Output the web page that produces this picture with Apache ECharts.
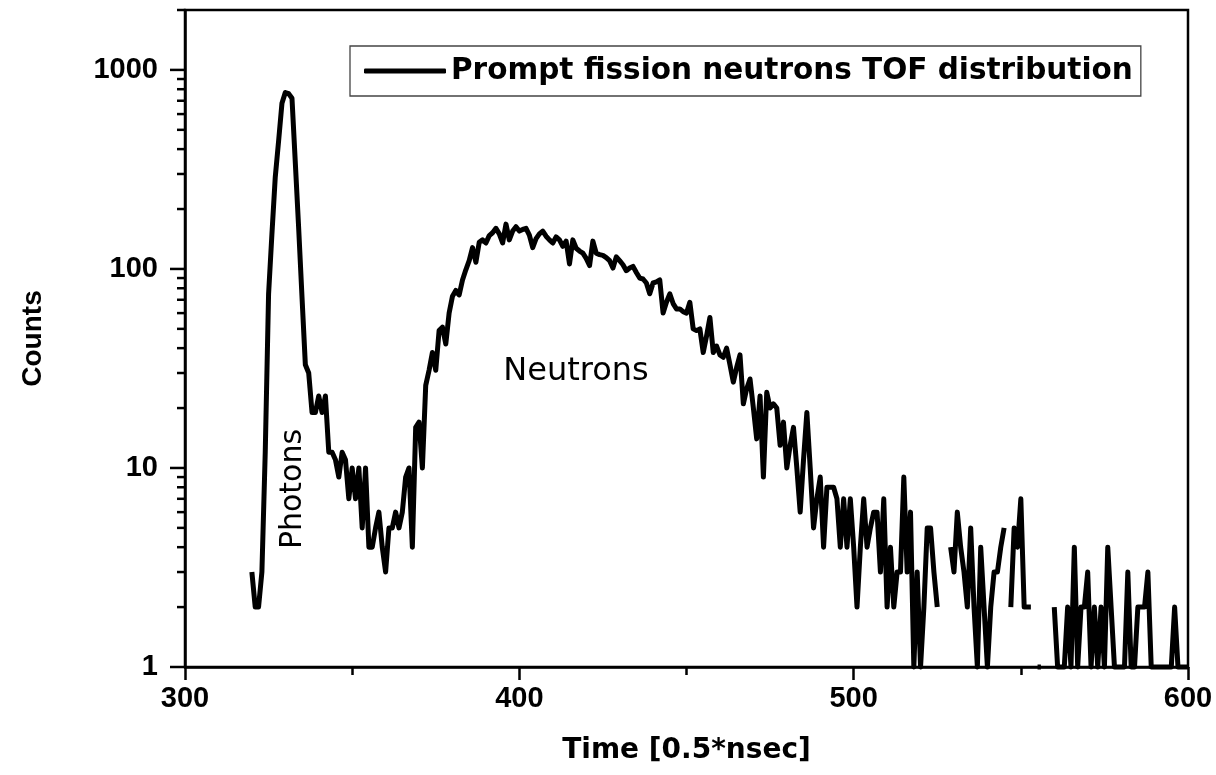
<!DOCTYPE html>
<html>
<head>
<meta charset="utf-8">
<script src="https://cdn.jsdelivr.net/npm/echarts@6/dist/echarts.min.js"></script>
<style>
html,body{margin:0;padding:0;background:#fff;}
#chart{width:1216px;height:775px;}
</style>
</head>
<body>
<div id="chart"></div>
<script>
// ---- data ----
const channels = [
320,321,322,323,324,325,326,327,328,329,330,331,332,333,334,335,336,337,338,339,
340,341,342,343,344,345,346,347,348,349,350,351,352,353,354,355,356,357,358,359,
360,361,362,363,364,365,366,367,368,369,370,371,372,373,374,375,376,377,378,379,
380,381,382,383,384,385,386,387,388,389,390,391,392,393,394,395,396,397,398,399,
400,401,402,403,404,405,406,407,408,409,410,411,412,413,414,415,416,417,418,419,
420,421,422,423,424,425,426,427,428,429,430,431,432,433,434,435,436,437,438,439,
440,441,442,443,444,445,446,447,448,449,450,451,452,453,454,455,456,457,458,459,
460,461,462,463,464,465,466,467,468,469,470,471,472,473,474,475,476,477,478,479,
480,481,482,483,484,485,486,487,488,489,490,491,492,493,494,495,496,497,498,499,
500,501,502,503,504,505,506,507,508,509,510,511,512,513,514,515,516,517,518,519,
520,521,522,523,524,525,526,527,528,529,530,531,532,533,534,535,536,537,538,539,
540,541,542,543,544,545,546,547,548,549,550,551,552,553,554,555,556,557,558,559,
560,561,562,563,564,565,566,567,568,569,570,571,572,573,574,575,576,577,578,579,
580,581,582,583,584,585,586,587,588,589,590,591,592,593,594,595,596,597,598,599,
600];
const counts = [
3,2,2,3,12,75,150,290,440,680,770,760,720,340,160,72,33,30,19,19,
23,19,23,12,12,11,9,12,11,7,10,7,10,5,10,4,4,5,6,4,
3,5,5,6,5,6,9,10,4,16,17,10,26,31,38,31,49,51,42,60,
73,78,74,88,99,110,128,108,136,140,135,147,152,160,150,135,168,140,155,163,
155,158,160,148,128,142,150,155,146,140,135,145,140,130,138,106,140,127,123,120,
113,104,138,120,118,117,114,110,101,115,110,105,98,101,103,96,90,89,85,75,
85,86,88,60,68,75,67,63,63,61,60,68,50,49,50,38,46,57,38,41,
37,36,40,33,27,32,37,21,25,28,20,14,23,9,24,20,21,20,13,17,
10,13,16,10,6,11,19,10,5,7,9,4,8,8,8,7,4,7,4,7,
4,2,4,7,4,5,6,6,3,7,2,4,2,3,3,9,3,6,1,3,
1,2,5,5,3,2,null,null,null,4,3,6,4,3,2,5,2,1,4,2,
1,2,3,3,4,5,null,2,5,4,7,2,2,2,null,1,1,null,null,null,
2,1,1,1,2,1,4,1,2,2,3,1,2,1,2,1,4,2,1,1,
1,1,3,1,1,2,2,2,3,1,1,1,1,1,1,1,2,1,1,1,
1];
const seriesName = 'Prompt fission neutrons TOF distribution';
const xTicks = [300, 400, 500, 600];
const yTickLabels = [1, 10, 100, 1000];
const yMinorTicks = [2,3,4,5,6,7,8,9,20,30,40,50,60,70,80,90,200,300,400,500,600,700,800,900,2000];
const xName = 'Time [0.5*nsec]';
const yName = 'Counts';
const annotPhotons = 'Photons';
const annotNeutrons = 'Neutrons';

// ---- build ----
const lineData = channels.map((c, i) => [c, counts[i]]);
const FONT = '"Liberation Sans", Arial, Helvetica, sans-serif';
const WIDE = '"DejaVu Sans", Verdana, sans-serif';

const chart = echarts.init(document.getElementById('chart'), null, {renderer: 'canvas'});

function tickRenderer(len) {
  return function (params, api) {
    const p = api.coord([api.value(0), api.value(1)]);
    return {
      type: 'line',
      shape: {x1: p[0] - len, y1: p[1], x2: p[0], y2: p[1]},
      style: {stroke: '#000', lineWidth: 2.5}
    };
  };
}

chart.setOption({
  animation: false,
  backgroundColor: '#fff',
  grid: {
    left: 185, right: 28, top: 10, bottom: 108,
    show: true, borderColor: '#000', borderWidth: 2.5,
    outerBoundsMode: 'none'
  },
  legend: {
    data: [{name: seriesName, icon: 'roundRect'}],
    left: 350, top: 46,
    padding: [10, 8, 10, 14],
    itemWidth: 82, itemHeight: 5, itemGap: 8,
    borderColor: '#444', borderWidth: 1.3,
    textStyle: {fontFamily: WIDE, fontWeight: 'bold', fontSize: 29.5, color: '#000'},
    selectedMode: false
  },
  xAxis: {
    type: 'value',
    min: xTicks[0], max: xTicks[xTicks.length - 1], interval: 100,
    name: xName, nameLocation: 'middle', nameGap: 70,
    nameTextStyle: {fontFamily: WIDE, fontWeight: 'bold', fontSize: 28, color: '#000'},
    axisLine: {show: true, onZero: false, lineStyle: {color: '#000', width: 2.5}},
    axisTick: {show: true, inside: false, length: 13, lineStyle: {color: '#000', width: 2.5}},
    minorTick: {show: true, splitNumber: 2, length: 8, lineStyle: {color: '#000', width: 2.5}},
    axisLabel: {fontFamily: FONT, fontWeight: 'bold', fontSize: 29, color: '#000', margin: 17},
    splitLine: {show: false}
  },
  yAxis: {
    type: 'log', logBase: 10,
    min: 1, max: 2000,
    name: yName, nameLocation: 'middle', nameGap: 138,
    nameTextStyle: {fontFamily: FONT, fontWeight: 'bold', fontSize: 28, color: '#000'},
    axisLine: {show: true, onZero: false, lineStyle: {color: '#000', width: 2.5}},
    axisTick: {show: false},
    axisLabel: {
      fontFamily: FONT, fontWeight: 'bold', fontSize: 29, color: '#000', margin: 27,
      formatter: function (v) { return yTickLabels.indexOf(Math.round(v)) >= 0 ? String(Math.round(v)) : ''; }
    },
    splitLine: {show: false}
  },
  graphic: [
    {type: 'text', x: 293, y: 489, rotation: Math.PI / 2,
     style: {text: annotPhotons, font: '30px ' + WIDE, fill: '#000', align: 'center', verticalAlign: 'middle'}},
    {type: 'text', x: 576, y: 372,
     style: {text: annotNeutrons, font: '32px ' + WIDE, fill: '#000', align: 'center', verticalAlign: 'middle'}}
  ],
  series: [
    {
      name: seriesName, type: 'line', data: lineData,
      showSymbol: false, symbol: 'none', connectNulls: false, clip: false,
      lineStyle: {color: '#000', width: 5, join: 'round'},
      itemStyle: {color: '#000'}
    },
    {
      name: 'majorTicks', type: 'custom', silent: true, clip: false,
      data: yTickLabels.map(v => [xTicks[0], v]),
      renderItem: tickRenderer(15)
    },
    {
      name: 'minorTicks', type: 'custom', silent: true, clip: false,
      data: yMinorTicks.map(v => [xTicks[0], v]),
      renderItem: tickRenderer(8)
    }
  ]
});
</script>
</body>
</html>
